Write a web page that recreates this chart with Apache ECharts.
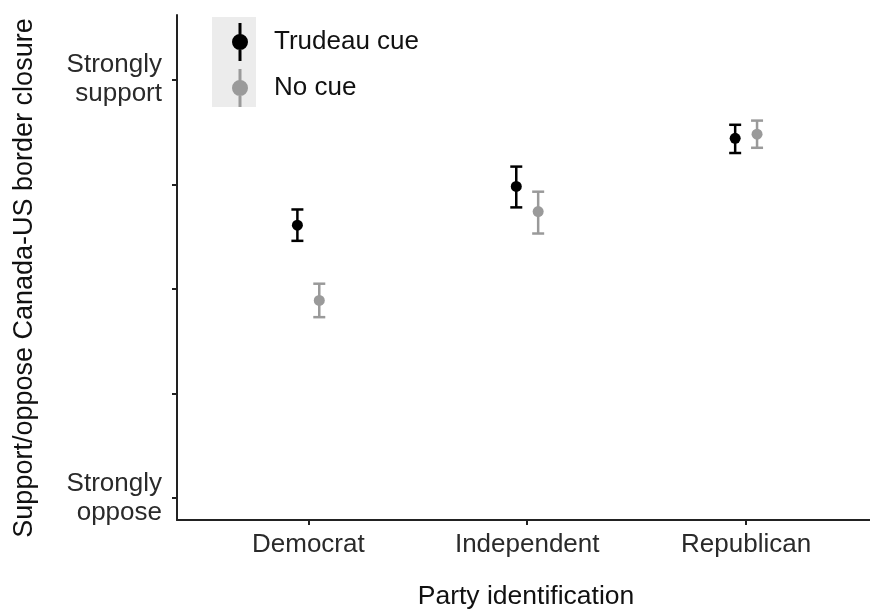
<!DOCTYPE html>
<html>
<head>
<meta charset="utf-8">
<script src="https://cdn.jsdelivr.net/npm/echarts@6/dist/echarts.min.js"></script>
<style>
html,body{margin:0;padding:0;background:#fff;}
#chart{width:870px;height:616px;}
</style>
</head>
<body>
<div id="chart"></div>
<script>
const categories = ['Democrat', 'Independent', 'Republican'];
const seriesNames = ['Trudeau cue', 'No cue'];
const trudeauMean = [3.61, 3.98, 4.44];
const trudeauLow  = [3.46, 3.78, 4.30];
const trudeauHigh = [3.76, 4.17, 4.57];
const noCueMean = [2.89, 3.74, 4.48];
const noCueLow  = [2.73, 3.53, 4.35];
const noCueHigh = [3.05, 3.93, 4.61];
const yTickValues = [1, 2, 3, 4, 5];
const yLabelValues = [1, 5];
const yLabelTexts = {1: 'Strongly\noppose', 5: 'Strongly\nsupport'};
const xTitle = 'Party identification';
const yTitle = 'Support/oppose Canada-US border closure';

const FONT = "'Liberation Sans', Arial, sans-serif";
const dodge = 0.05;

function build(mean, low, high, offset) {
  return categories.map((c, i) => [i + 1 + offset, mean[i], low[i], high[i]]);
}

function renderItem(params, api) {
  const x = api.value(0);
  const p = api.coord([x, api.value(1)]);
  const lo = api.coord([x, api.value(2)]);
  const hi = api.coord([x, api.value(3)]);
  const color = api.visual('color');
  const hw = 6;
  const st = {stroke: color, lineWidth: 2.5};
  return {
    type: 'group',
    children: [
      {type: 'line', shape: {x1: p[0], y1: hi[1], x2: p[0], y2: lo[1]}, style: st},
      {type: 'line', shape: {x1: p[0] - hw, y1: hi[1], x2: p[0] + hw, y2: hi[1]}, style: st},
      {type: 'line', shape: {x1: p[0] - hw, y1: lo[1], x2: p[0] + hw, y2: lo[1]}, style: st},
      {type: 'circle', shape: {cx: p[0], cy: p[1], r: 5.5}, style: {fill: color}}
    ]
  };
}

const legendIcon = 'path://M0,19 A8,8 0 1,1 16,19 A8,8 0 1,1 0,19 Z M6.5,0 L9.5,0 L9.5,38 L6.5,38 Z';

const chart = echarts.init(document.getElementById('chart'));
chart.setOption({
  animation: false,
  backgroundColor: '#ffffff',
  textStyle: {fontFamily: FONT},
  grid: {left: 177, right: 0, top: 15, bottom: 96},
  graphic: [
    {type: 'rect', left: 212, top: 17, z: -1, shape: {width: 44, height: 90}, style: {fill: '#ececec'}},
    {type: 'text', x: 526, y: 597, style: {text: xTitle, font: '26.5px ' + FONT, fill: '#111', align: 'center', verticalAlign: 'middle'}},
    {type: 'text', x: 25, y: 278, rotation: Math.PI / 2, style: {text: yTitle, font: '27px ' + FONT, fill: '#111', align: 'center', verticalAlign: 'middle'}}
  ],
  legend: {
    orient: 'vertical',
    left: 227,
    top: 18,
    itemWidth: 16,
    itemHeight: 38,
    itemGap: 8,
    icon: legendIcon,
    data: seriesNames,
    textStyle: {fontSize: 26, color: '#111', fontFamily: FONT, padding: [0, 0, 0, 21]}
  },
  xAxis: {
    type: 'value',
    min: 0.4,
    max: 3.566,
    splitLine: {show: false},
    axisLine: {show: true, lineStyle: {color: '#222', width: 2}},
    axisTick: {show: true, length: 5, customValues: [1, 2, 3], lineStyle: {color: '#222', width: 2}},
    axisLabel: {
      customValues: [1, 2, 3],
      formatter: v => categories[Math.round(v) - 1],
      fontSize: 26, color: '#2a2a2a', fontFamily: FONT, margin: 12
    }
  },
  yAxis: {
    type: 'value',
    min: 0.79,
    max: 5.62,
    splitLine: {show: false},
    axisLine: {show: true, lineStyle: {color: '#222', width: 2}},
    axisTick: {show: true, length: 5, customValues: yTickValues, lineStyle: {color: '#222', width: 2}},
    axisLabel: {
      customValues: yLabelValues,
      formatter: v => yLabelTexts[Math.round(v)] || '',
      fontSize: 26, lineHeight: 29, color: '#2a2a2a', fontFamily: FONT, margin: 15, align: 'right'
    }
  },
  series: [
    {
      name: seriesNames[0], type: 'custom', renderItem: renderItem,
      itemStyle: {color: '#000000'},
      encode: {x: 0, y: [1, 2, 3]},
      data: build(trudeauMean, trudeauLow, trudeauHigh, -dodge)
    },
    {
      name: seriesNames[1], type: 'custom', renderItem: renderItem,
      itemStyle: {color: '#9a9a9a'},
      encode: {x: 0, y: [1, 2, 3]},
      data: build(noCueMean, noCueLow, noCueHigh, dodge)
    }
  ]
});
</script>
</body>
</html>
